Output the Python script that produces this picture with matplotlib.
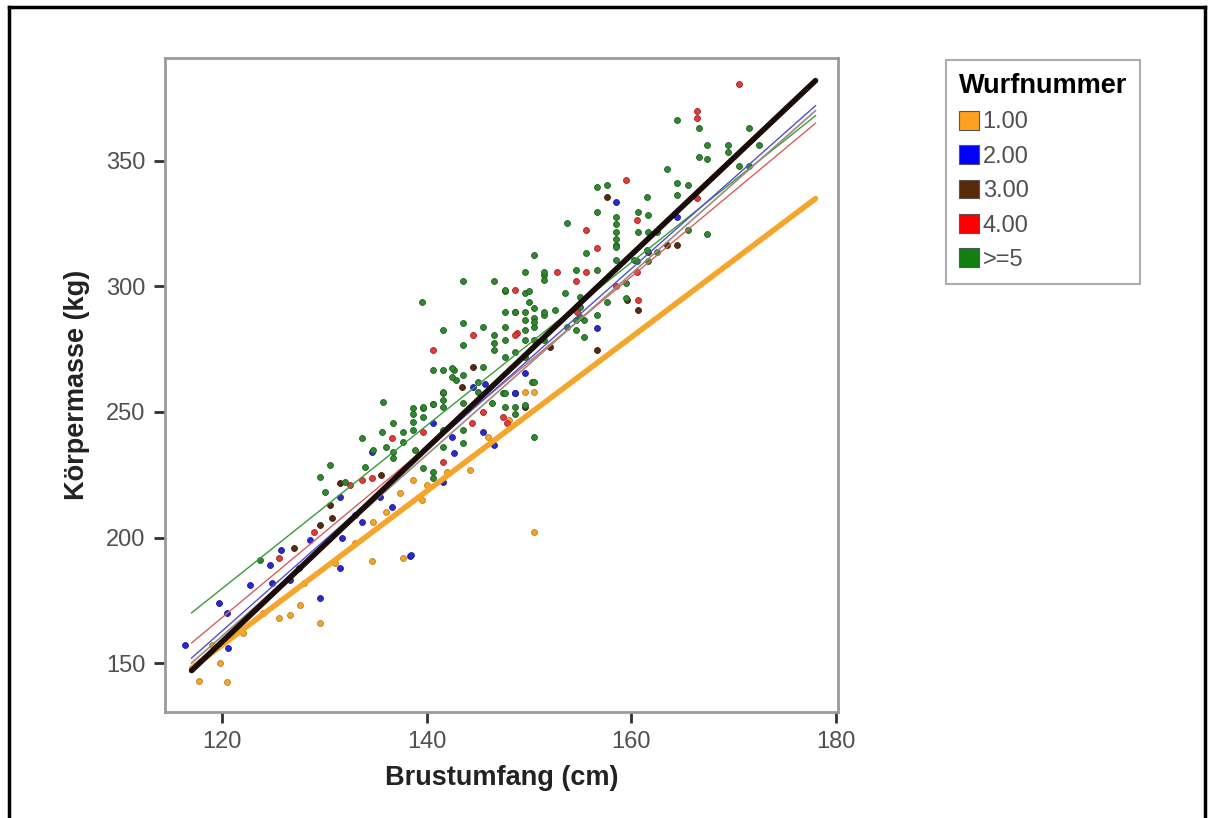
import matplotlib
matplotlib.use("Agg")
import matplotlib.pyplot as plt
from matplotlib.patches import Patch
from matplotlib.lines import Line2D

plt.rcParams['font.family'] = ['Liberation Sans', 'DejaVu Sans']

# ---------------- data ----------------
groups = ["1.00", "2.00", "3.00", "4.00", ">=5"]
legend_title = "Wurfnummer"
x_label = "Brustumfang (cm)"
y_label = "Körpermasse (kg)"
x_ticks = [120, 140, 160, 180]
y_ticks = [150, 200, 250, 300, 350]

orange_x = [117.7, 120.5, 119.8, 125.5, 126.6, 127.6, 129.6, 134.6, 137.7, 144.2,
            150.5, 137.4, 138.6, 134.7, 149.6, 150.5, 122.0, 124.0, 128.0, 131.0,
            133.0, 136.0, 140.0, 142.0, 146.0, 148.0, 119.0, 139.5]
orange_y = [142.8, 142.4, 150.0, 168.0, 169.0, 173.0, 166.0, 190.7, 191.9, 227.0,
            202.0, 217.8, 223.0, 206.0, 258.0, 258.0, 162.0, 170.0, 182.0, 190.0,
            198.0, 210.0, 221.0, 226.0, 240.0, 247.0, 157.0, 215.0]

blue_x = [116.4, 119.7, 120.6, 120.5, 122.7, 124.7, 125.7, 124.9, 129.6, 126.6,
          128.6, 131.5, 138.4, 131.5, 131.7, 133.7, 134.6, 135.4, 136.6, 138.5,
          141.6, 140.6, 142.5, 142.7, 145.5, 146.6, 148.6, 149.6, 144.5, 145.7,
          148.6, 156.6, 158.5, 164.5, 127.5, 133.0]
blue_y = [157.0, 174.0, 156.0, 170.0, 181.0, 189.0, 195.0, 182.0, 176.0, 183.0,
          199.0, 188.0, 192.7, 216.0, 200.0, 206.0, 234.0, 216.0, 212.0, 193.0,
          222.0, 245.7, 240.0, 233.7, 242.0, 237.0, 257.6, 265.6, 260.0, 261.0,
          257.6, 283.6, 333.8, 327.8, 188.0, 209.0]

brown_x = [130.5, 129.6, 130.7, 131.5, 156.6, 159.6, 160.6, 161.6, 163.5, 164.5,
           157.6, 143.4, 144.5, 149.6, 127.0, 135.5, 152.0]
brown_y = [213.0, 205.0, 207.8, 221.8, 274.8, 294.7, 290.7, 313.9, 316.7, 316.7,
           335.8, 260.0, 268.0, 252.0, 196.0, 225.0, 276.0]

red_x = [132.5, 133.7, 134.6, 136.6, 139.6, 141.6, 140.6, 144.5, 148.6, 148.8,
         144.4, 145.5, 147.4, 147.8, 152.7, 156.6, 155.6, 154.6, 148.6, 160.6,
         160.5, 158.5, 154.7, 170.5, 166.4, 166.4, 159.5, 160.5, 166.4, 155.6,
         129.0, 125.5]
red_y = [221.0, 223.0, 223.8, 239.7, 242.0, 230.0, 274.8, 280.8, 298.7, 281.6,
         245.7, 250.0, 248.0, 245.7, 305.9, 315.5, 305.9, 302.0, 280.8, 294.7,
         305.9, 300.0, 290.0, 380.5, 369.7, 367.0, 342.6, 326.6, 335.4, 322.6,
         202.0, 192.0]

green_x = [123.7, 129.6, 130.5, 135.7, 133.7, 138.6, 138.6, 139.6, 139.6, 140.6,
           141.6, 141.6, 136.7, 136.7, 136.7, 137.7, 135.6, 134.7, 138.8, 139.6,
           140.6, 140.6, 139.5, 143.5, 141.6, 143.5, 143.5, 140.6, 141.6, 142.7,
           142.9, 146.6, 149.6, 151.5, 147.6, 149.6, 145.5, 146.6, 146.6, 146.6,
           147.6, 147.6, 148.6, 149.6, 149.6, 149.6, 149.6, 150.5, 150.5, 151.5,
           142.5, 142.5, 143.5, 145.5, 141.6, 141.6, 140.6, 139.6, 138.6, 138.6,
           143.5, 146.4, 147.4, 147.6, 148.6, 150.3, 150.5, 141.6, 141.6, 143.5,
           143.5, 137.7, 150.5, 147.6, 151.5, 151.5, 153.5, 154.6, 155.6, 156.6,
           158.5, 158.5, 148.6, 150.5, 150.5, 151.5, 152.5, 147.6, 147.6, 148.6,
           149.6, 150.5, 151.5, 153.7, 154.6, 154.6, 155.4, 155.4, 156.6, 157.6,
           159.5, 159.5, 160.3, 161.5, 147.6, 148.6, 149.6, 150.5, 156.6, 157.6,
           156.6, 153.7, 158.5, 158.5, 158.5, 158.5, 158.5, 164.5, 166.6, 167.4,
           166.6, 167.4, 169.4, 169.4, 171.5, 172.5, 170.5, 171.5, 163.5, 164.5,
           165.5, 164.5, 161.5, 160.6, 161.6, 160.6, 161.6, 162.5, 165.5, 167.4,
           162.5, 160.5, 161.6, 155.0, 155.0, 155.0, 150.0, 150.0, 145.0, 145.0,
           130.0, 132.0, 134.0, 136.0]
green_y = [191.0, 224.0, 229.0, 254.0, 239.7, 251.7, 249.0, 251.7, 248.0, 253.0,
           257.6, 252.0, 245.7, 234.0, 231.7, 242.0, 242.0, 235.0, 235.0, 227.7,
           226.0, 223.8, 294.0, 302.0, 282.8, 285.6, 276.8, 266.8, 266.8, 266.8,
           262.8, 302.0, 305.9, 304.7, 298.0, 297.5, 284.0, 280.8, 277.6, 274.8,
           284.0, 278.8, 290.0, 290.0, 286.8, 282.8, 278.8, 291.5, 287.6, 288.8,
           267.6, 264.0, 264.8, 268.0, 258.0, 254.9, 253.0, 252.0, 246.0, 243.0,
           253.7, 253.7, 257.6, 252.0, 252.0, 262.0, 240.0, 243.0, 236.0, 243.0,
           237.7, 238.0, 312.7, 298.7, 305.9, 302.7, 297.5, 306.7, 313.5, 306.7,
           316.7, 310.7, 290.0, 284.0, 286.0, 290.0, 290.7, 290.0, 272.0, 274.0,
           272.0, 278.8, 278.8, 284.0, 286.8, 282.8, 286.8, 280.0, 288.8, 294.0,
           295.5, 301.5, 310.7, 314.7, 257.6, 249.0, 252.9, 262.0, 339.8, 340.6,
           329.8, 325.4, 327.8, 324.8, 321.8, 318.8, 315.8, 366.5, 363.3, 356.5,
           351.4, 350.6, 356.5, 353.7, 363.3, 356.5, 347.8, 347.8, 346.6, 341.4,
           340.6, 336.6, 335.8, 329.8, 328.6, 321.5, 321.5, 321.5, 322.6, 320.7,
           313.9, 310.0, 310.0, 296.0, 292.0, 288.0, 298.0, 294.0, 262.0, 258.0,
           218.0, 222.0, 228.0, 236.0]

# fit lines: value at x = 117 and x = 178
fit_x = [117, 178]
fit_orange = [148, 335]
fit_blue = [152, 372]
fit_brown = [150, 370]
fit_red = [158, 365]
fit_green = [170, 368]
fit_total = [147, 382]

# ---------------- drawing ----------------
c_orange = "#f5a52a"
c_blue = "#2a2ad0"
c_brown = "#5a2a10"
c_red = "#e23a3a"
c_green = "#2f8a2f"

fig = plt.figure(figsize=(12.14, 8.18), dpi=100)
ax = fig.add_axes([165 / 1214, 1 - 712 / 818, 673 / 1214, 654 / 818])

pts = dict(s=18, marker="o", linewidths=0.6, zorder=3)
ax.scatter(orange_x, orange_y, color=c_orange, edgecolors="#b87d20", **pts)
ax.scatter(blue_x, blue_y, color=c_blue, edgecolors="#1a1a90", **pts)
ax.scatter(brown_x, brown_y, color=c_brown, edgecolors="#3a1a08", **pts)
ax.scatter(red_x, red_y, color=c_red, edgecolors="#a02020", **pts)
ax.scatter(green_x, green_y, color=c_green, edgecolors="#1d5a1d", **pts)

ax.plot(fit_x, fit_green, color="#3a9a3a", lw=1.0, zorder=4)
ax.plot(fit_x, fit_red, color="#d86060", lw=1.0, zorder=4)
ax.plot(fit_x, fit_blue, color="#5050d0", lw=1.0, zorder=4)
ax.plot(fit_x, fit_brown, color="#9a8a80", lw=1.2, zorder=4)
ax.plot(fit_x, fit_orange, color=c_orange, lw=4.0, zorder=5, solid_capstyle="round")
ax.plot(fit_x, fit_total, color="#1a0c08", lw=4.0, zorder=6, solid_capstyle="round")

ax.set_xlim(114.4, 180.2)
ax.set_ylim(130.5, 391)
ax.set_xticks(x_ticks)
ax.set_yticks(y_ticks)
ax.tick_params(axis="both", direction="out", length=8, width=2, color="#303030",
               labelsize=17, labelcolor="#505050", pad=6)
for sp in ax.spines.values():
    sp.set_color("#9a9a9a")
    sp.set_linewidth(2)

ax.set_xlabel(x_label, fontsize=19.5, fontweight="bold", color="#222222", labelpad=8)
ax.set_ylabel(y_label, fontsize=19.5, fontweight="bold", color="#222222", labelpad=12)

handles = [Patch(facecolor=c, edgecolor="#555555", linewidth=0.8)
           for c in ["#ffa020", "#0000ff", "#5a2a0a", "#ff0000", "#108010"]]
leg = fig.legend(handles, groups, title=legend_title, loc="upper left",
                 bbox_to_anchor=(946 / 1214, 1 - 60 / 818), frameon=True,
                 fontsize=17, title_fontproperties={"weight": "bold", "size": 19.5},
                 handlelength=0.85, handleheight=0.85, handletextpad=0.15,
                 labelspacing=0.5, borderpad=0.55, borderaxespad=0,
                 fancybox=False, alignment="left")
for t in leg.get_texts():
    t.set_color("#505050")
leg.get_frame().set_edgecolor("#9a9a9a")
leg.get_frame().set_linewidth(1.5)

# outer black frame (left, top, right)
fig.add_artist(Line2D([9 / 1214, 9 / 1214], [0, 1 - 7 / 818], color="black", lw=2.5,
                      transform=fig.transFigure))
fig.add_artist(Line2D([9 / 1214, 1205 / 1214], [1 - 7 / 818, 1 - 7 / 818], color="black",
                      lw=2.5, transform=fig.transFigure))
fig.add_artist(Line2D([1205 / 1214, 1205 / 1214], [0, 1 - 7 / 818], color="black", lw=2.5,
                      transform=fig.transFigure))

fig.savefig("out.png", dpi=100)
